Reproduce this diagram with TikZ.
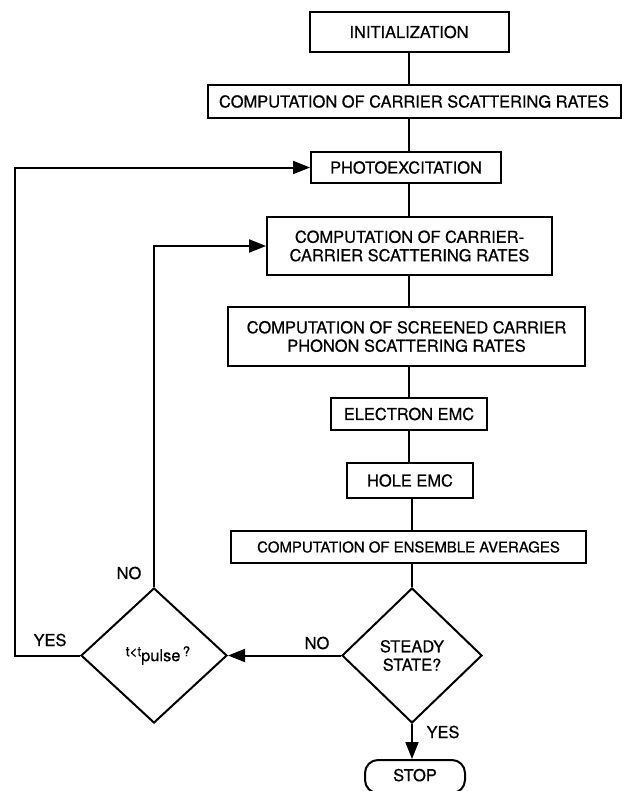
\documentclass[tikz,border=0pt]{standalone}
\usepackage{fontspec}
\setmainfont{TeX Gyre Heros}[FakeBold=0.6]
\usetikzlibrary{shapes.geometric,arrows.meta}
\begin{document}
\begin{tikzpicture}[x=1bp,y=-1bp,
  every node/.style={font=\fontsize{16.5}{18.5}\selectfont},
  box/.style={draw,line width=2bp,rectangle,inner sep=0,align=center},
  dia/.style={draw,line width=2bp,diamond,inner sep=0,align=center,minimum width=146bp,minimum height=135bp},
  link/.style={line width=2bp},
  arr/.style={line width=2bp,-{Triangle[length=17bp,width=13bp]}},
  lbl/.style={inner sep=0}]
\clip (0,0) rectangle (629,791);
\useasboundingbox (0,0) rectangle (629,791);
\fill[white] (0,0) rectangle (629,791);

\node[box,minimum width=199bp,minimum height=40bp] (init) at (409,32) {INITIALIZATION};
\node[box,minimum width=413bp,minimum height=33bp] (csr) at (414,101.5) {COMPUTATION OF CARRIER SCATTERING RATES};
\node[box,minimum width=190bp,minimum height=31bp] (photo) at (406,167.5) {PHOTOEXCITATION};
\node[box,minimum width=285bp,minimum height=58bp] (cc) at (409.5,246) {COMPUTATION OF CARRIER-\\CARRIER SCATTERING RATES};
\node[box,minimum width=357bp,minimum height=59bp] (scr) at (406.5,336.5) {COMPUTATION OF SCREENED CARRIER\\PHONON SCATTERING RATES};
\node[box,minimum width=156bp,minimum height=32bp] (elec) at (409,414) {ELECTRON EMC};
\node[box,minimum width=126bp,minimum height=35bp] (hole) at (410,480.5) {HOLE EMC};
\node[box,minimum width=355bp,minimum height=32bp,font=\fontsize{15}{17}\selectfont] (ens) at (408.5,547) {COMPUTATION OF ENSEMBLE AVERAGES};
\node[dia,minimum width=140bp] (steady) at (412,655.5) {STEADY\\STATE?};
\node[dia] (tdia) at (154,655.5) {\hspace{8bp}\raisebox{5bp}{\fontsize{13.5}{13.5}\selectfont t<t}pulse\raisebox{5bp}{\fontsize{13.5}{13.5}\selectfont\,?}};
\node[box,rounded corners=13bp,minimum width=100bp,minimum height=33bp] (stop) at (415,776.5) {\raisebox{3bp}{STOP}};

\coordinate (yl) at (15,655.5);

\draw[link] (init.south) -- (init.south |- csr.north);
\draw[link] (init.south |- csr.south) -- (init.south |- photo.north);
\draw[link] (photo.south -| init.south) -- (init.south |- cc.north);
\draw[link] (cc.south -| init.south) -- (init.south |- scr.north);
\draw[link] (scr.south -| elec.north) -- (elec.north);
\draw[link] (elec.south) -- (elec.south |- hole.north);
\draw[link] (hole.south -| steady.north) -- (steady.north |- ens.north);
\draw[link] (ens.south -| steady.north) -- (steady.north);
\draw[arr] (steady.south) -- (steady.south |- stop.north);
\draw[arr] (steady.west) -- (tdia.east);
\draw[arr] (tdia.west) -- (yl) |- (photo.west);
\draw[arr] (tdia.north) |- (cc.west);

\node[lbl] at (129,573) {NO};
\node[lbl] at (50,640) {YES};
\node[lbl] at (317,643) {NO};
\node[lbl] at (443,732) {YES};
\end{tikzpicture}
\end{document}
